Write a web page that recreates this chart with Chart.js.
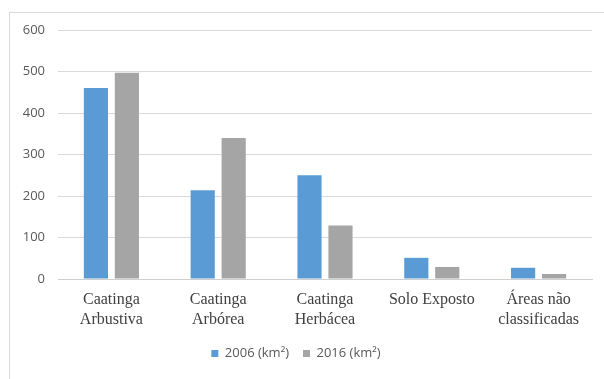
<!DOCTYPE html>
<html>
<head>
<meta charset="utf-8">
<script src="https://cdn.jsdelivr.net/npm/chart.js@4"></script>
<style>
  body { margin: 0; background: #fff; }
  .frame { position: absolute; left: 9px; top: 12px; width: 620px; height: 400px; border: 1px solid #d9d9d9; }
  .wrap { position: absolute; left: 0; top: 0; width: 604px; height: 379px; }
</style>
</head>
<body>
<div class="frame"></div>
<div class="wrap"><canvas id="myChart"></canvas></div>
<script>
const categories = [['Caatinga', 'Arbustiva'], ['Caatinga', 'Arbórea'], ['Caatinga', 'Herbácea'], 'Solo Exposto', ['Áreas não', 'classificadas']];
const values2006 = [460, 214, 250, 51, 27];
const values2016 = [497, 340, 129, 29, 12];
const seriesLabels = ['2006 (km²)', '2016 (km²)'];
const yTicks = [0, 100, 200, 300, 400, 500, 600];

const ctx = document.getElementById('myChart');

new Chart(ctx, {
    type: 'bar',
    data: {
        labels: categories,
        datasets: [
            {
                label: seriesLabels[0],
                data: values2006,
                backgroundColor: '#5b9bd5',
                categoryPercentage: 0.58,
                barPercentage: 0.78
            },
            {
                label: seriesLabels[1],
                data: values2016,
                backgroundColor: '#a5a5a5',
                categoryPercentage: 0.58,
                barPercentage: 0.78
            }
        ]
    },
    options: {
        responsive: true,
        maintainAspectRatio: false,
        animation: false,
        layout: { padding: { top: 30, right: 12, left: 0, bottom: 9 } },
        plugins: {
            tooltip: { enabled: false },
            legend: {
                position: 'bottom',
                labels: {
                    boxWidth: 7,
                    boxHeight: 7,
                    padding: 14,
                    color: '#595959',
                    font: { family: 'Open Sans', size: 13 }
                }
            }
        },
        scales: {
            x: {
                grid: { display: false },
                border: { display: true, color: '#d0d0d0' },
                ticks: {
                    color: '#404040',
                    maxRotation: 0,
                    autoSkip: false,
                    padding: 3,
                    font: { family: 'Liberation Serif', size: 16, lineHeight: 1.25 }
                }
            },
            y: {
                min: 0,
                max: 600,
                afterFit: (scale) => { scale.width = 58; },
                afterBuildTicks: (scale) => { scale.ticks = yTicks.map(v => ({ value: v })); },
                grid: { color: '#d9d9d9', drawTicks: false },
                border: { display: false },
                ticks: {
                    color: '#595959',
                    padding: 13,
                    font: { family: 'Open Sans', size: 13 }
                }
            }
        }
    }
});
</script>
</body>
</html>
